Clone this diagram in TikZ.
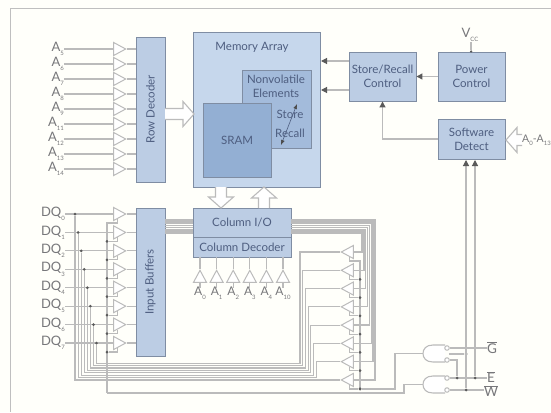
\documentclass[tikz,border=0pt]{standalone}
\usepackage{fontspec}
\setmainfont{Lato}
\usetikzlibrary{shapes.geometric,arrows.meta,calc}
\definecolor{boxfill}{HTML}{BCCDE4}
\definecolor{boxline}{HTML}{7F8DA3}
\definecolor{memfill}{HTML}{C6D7EC}
\definecolor{nvfill}{HTML}{A3BBDB}
\definecolor{sramfill}{HTML}{93AFD3}
\definecolor{txt}{HTML}{4E5E80}
\definecolor{wire}{HTML}{BBBBBB}
\definecolor{head}{HTML}{5A5A5A}
\definecolor{lbl}{HTML}{77777A}
\newcommand\sbs[1]{\raisebox{-.32em}{\fontsize{6}{6}\selectfont #1}}
\newcommand\blockarrow[5]{\draw[blockarrow,shift={(#1,#2)},rotate=#3] (0,-#5) -- ({#4-11},-#5) -- ({#4-11},-12.5) -- (#4,0) -- ({#4-11},12.5) -- ({#4-11},#5) -- (0,#5);}
\tikzset{
 box/.style={draw=boxline,fill=boxfill,line width=.9pt,text=txt,inner sep=0pt,align=center,font=\fontsize{11.5}{14}\selectfont},
 wireline/.style={draw=wire,line width=1.1pt},
 busline/.style={draw=wire,line width=1.3pt},
 tri/.style={isosceles triangle,isosceles triangle stretches,draw=wire,fill=white,line width=1pt,minimum width=13pt,minimum height=12pt,inner sep=0pt},
 blockarrow/.style={draw=wire,fill=white,line width=1.1pt},
 toarrow/.style={wireline,-{Triangle[length=6pt,width=6pt,color=head]}},
 junction/.style={circle,fill=head,inner sep=0pt,minimum size=3pt},
 sig/.style={text=lbl,inner sep=0pt,font=\fontsize{13}{13}\selectfont},
 inlabel/.style={text=txt,inner sep=0pt,align=center,font=\fontsize{11.5}{14}\selectfont},
 gate/.style={draw=wire,fill=white,line width=1.1pt},
 bubble/.style={circle,draw=wire,fill=white,line width=1pt,inner sep=0pt,minimum size=4.5pt},
 framing/.style={draw=black!25,line width=1pt}
}
\begin{document}
\begin{tikzpicture}[x=1pt,y=-1pt]
\useasboundingbox (0,0) rectangle (551,412);
\fill[white!98!yellow] (0,0) rectangle (551,412);
\draw[framing] (551,9) -- (10,9) -- (10,412);
% boxes
\node[box,minimum width=29pt,minimum height=145pt] (rd) at (150.5,109.5) {\rotatebox{90}{Row Decoder}};
\node[box,minimum width=29pt,minimum height=148pt] (ib) at (150.5,282) {\rotatebox{90}{Input Buffers}};
\node[box,fill=memfill,minimum width=127pt,minimum height=155pt] (mem) at (256.5,109.5) {};
\node[box,fill=nvfill,minimum width=69pt,minimum height=78pt] (nv) at (276.5,109) {};
\node[box,fill=sramfill,minimum width=68pt,minimum height=74pt] (sram) at (237,140) {SRAM};
\node[box,minimum width=67pt,minimum height=49pt] (sr) at (382.5,76.5) {Store/Recall\\Control};
\node[box,minimum width=67pt,minimum height=49pt] (pc) at (471.5,76.5) {Power\\Control};
\node[box,minimum width=67pt,minimum height=40pt] (sd) at (471.5,139) {Software\\Detect};
\node[box,minimum width=98pt,minimum height=29pt] (cio) at (242,222.5) {Column I/O};
\node[box,minimum width=98pt,minimum height=20pt] (cdec) at (242,247) {Column Decoder};
\node[inlabel] (memlabel) at (252,47) {Memory Array};
\node[inlabel] (nvlabel) at (276,86) {Nonvolatile\\Elements};
\node[inlabel] (storelabel) at (290,114) {Store};
\node[inlabel] (recalllabel) at (290,133) {Recall};
\coordinate (stB) at (297,104);
\coordinate (reB) at (281,145);
\draw[line width=.6pt,draw=txt,{Latex[length=5pt,width=4pt,color=black!70]}-{Latex[length=5pt,width=4pt,color=black!70]}] (reB) -- (stB);
% block arrows
\blockarrow{165}{114}{0}{29}{5.5}
\blockarrow{221}{187}{-90}{21}{5.5}
\blockarrow{264}{208}{90}{21}{5.5}
\blockarrow{522}{140}{180}{16}{5.5}
% top-right connectors
\coordinate (m1) at (321,61);
\coordinate (m2) at (321,90);
\draw[toarrow] (sr.west |- m1) -- (m1);
\draw[toarrow] (sr.west |- m2) -- (m2);
\draw[toarrow] (pc) -- (sr);
\draw[toarrow] (sd.west) -| (sr.south);
\node[sig] (vcc) at (470,35) {V\sbs{CC}};
\node[junction,minimum size=2.5pt] (vccdot) at (471,51.5) {};
\draw[wireline] (vcc.south -| vccdot) -- (vccdot);
\node[sig,anchor=west,font=\fontsize{10.5}{12}\selectfont] (a013) at (522,140) {A\sbs{0}-A\sbs{13}};
% row address
\foreach \s [count=\i from 0] in {5,6,7,8,9,11,12,13,14}{
 \pgfmathsetmacro\yy{49+15*\i}
 \node[sig,anchor=east] (al\i) at (64,\yy) {A\sbs{\s}};
 \node[tri,anchor=apex] (at\i) at (127,\yy) {};
 \draw[wireline] (al\i.east) -- (at\i.lower side);
 \draw[wireline] (at\i.apex) -- (at\i.apex -| rd.west);
}
% column address
\foreach \s [count=\i from 0] in {0,1,2,3,4,10}{
 \pgfmathsetmacro\xx{200+16.6*\i}
 \node[sig,font=\fontsize{12}{12}\selectfont] (cl\i) at (\xx,293) {A\sbs{\s}};
 \node[tri,shape border rotate=90,anchor=apex] (ct\i) at (\xx,269) {};
 \draw[wireline] (ct\i.apex) -- (ct\i.apex |- cdec.south);
 \draw[wireline] (ct\i.lower side) -- ++(0,5);
}
% bus between buffers, column I/O and right drivers
\foreach \i in {0,...,7}{
 \pgfmathsetmacro\yt{252+18.28*\i}
 \pgfmathsetmacro\xb{362+1.857*\i}
 \pgfmathsetmacro\yb{233-1.857*\i}
 \node[tri,shape border rotate=180,anchor=apex] (rt\i) at (340,\yt) {};
 \coordinate (bb\i) at (\xb,\yb);
 \draw[busline] (ib.east |- bb\i) -- (cio.west |- bb\i);
 \draw[busline] (cio.east |- bb\i) -- (bb\i) |- (rt\i.lower side);
}
% control rail, right
\coordinate (railrtop) at (360,261);
\coordinate (railrbot) at (360,389);
\draw[wireline] (rt0.south) |- (railrtop) -- (railrbot);
\foreach \i in {1,...,7}{
 \pgfmathsetmacro\yt{252+18.28*\i+9}
 \node[junction] (rd\i) at (360,\yt) {};
 \draw[wireline] (rt\i.south) |- (rd\i);
}
\node[junction] (rd8) at (railrbot) {};
% DQ rows
\foreach \i in {0,...,7}{
 \pgfmathsetmacro\yy{214+18.43*\i}
 \pgfmathsetmacro\xd{75+3.07*\i}
 \pgfmathsetmacro\yb{380-2.4*\i}
 \pgfmathsetmacro\xr{300+2.7*(7-\i)}
 \pgfmathtruncatemacro\r{7-\i}
 \node[sig,anchor=east] (dq\i) at (65,\yy) {DQ\sbs{\i}};
 \node[tri,anchor=apex] (lt\i) at (127,\yy) {};
 \draw[wireline] (dq\i.east) -- (lt\i.lower side);
 \draw[wireline] (lt\i.apex) -- (lt\i.apex -| ib.west);
 \node[junction] (dd\i) at (\xd,\yy) {};
 \coordinate (bt\i) at (\xr,\yb);
 \draw[wireline] (dd\i) |- (bt\i) |- (rt\r.apex);
}
% control rail, left
\coordinate (raillbot) at (107,393);
\coordinate (railltop) at (107,223);
\draw[wireline] (lt0.south) |- (railltop) -- (raillbot);
\foreach \i in {1,...,7}{
 \pgfmathsetmacro\yy{214+18.43*\i+9}
 \node[junction] (ld\i) at (107,\yy) {};
 \draw[wireline] (lt\i.south) |- (ld\i);
}
% gates
\draw[gate] (445,345) -- (433,345) .. controls (426,345) and (423,349) .. (423,353.5) .. controls (423,358) and (426,362) .. (433,362) -- (445,362);
\draw[gate] (445,376) -- (433,376) .. controls (426,376) and (423,380) .. (423,384.5) .. controls (423,389) and (426,393) .. (433,393) -- (445,393);
\coordinate (g1in) at (423,353.5);
\coordinate (g2in) at (423,384.5);
\node[bubble] (b1) at (447,348) {};
\node[bubble] (b2) at (447,360) {};
\node[bubble] (b3) at (447,378) {};
\node[bubble] (b4) at (447,390) {};
\node[sig,font=\fontsize{13.5}{13.5}\selectfont] (gl) at (492,348) {$\overline{\mbox{G}}$};
\node[sig,font=\fontsize{13.5}{13.5}\selectfont] (el) at (491,377) {$\overline{\mbox{E}}$};
\node[sig,font=\fontsize{13.5}{13.5}\selectfont] (wl) at (491,391) {$\overline{\mbox{W}}$};
\draw[wireline] (rd8) -- ++(35,0) |- (g1in);
\draw[wireline] (raillbot) -- ++(297,0) |- (g2in);
\draw[wireline] (b1) -- (gl.west |- b1);
\draw[wireline] (b3) -- (el.west |- b3);
\draw[wireline] (b4) -- (wl.west |- b4);
\node[junction] (je1) at (457,378) {};
\node[junction] (je2) at (475,378) {};
\node[junction] (jw) at (466,390) {};
\node[junction] (jg) at (466,354) {};
\draw[wireline] (b2) -| (je1);
\draw[wireline] (b1.south east |- jg) -- (jg);
\coordinate (sd1) at (466,160);
\coordinate (sd2) at (475,160);
\draw[toarrow] (jw) -- (sd1);
\draw[toarrow] (je2) -- (sd2);
\end{tikzpicture}
\end{document}
